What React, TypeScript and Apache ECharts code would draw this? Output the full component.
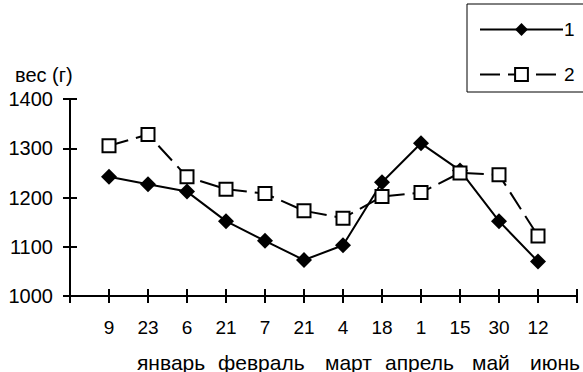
import React, { useEffect, useRef } from 'react';
import * as echarts from 'echarts';

const dayLabels = ['9', '23', '6', '21', '7', '21', '4', '18', '1', '15', '30', '12'];
const monthLabels = ['январь', 'февраль', 'март', 'апрель', 'май', 'июнь'];
const series1 = [1242, 1227, 1212, 1152, 1112, 1073, 1103, 1231, 1310, 1255, 1152, 1070];
const series2 = [1305, 1328, 1242, 1217, 1208, 1173, 1158, 1202, 1210, 1250, 1246, 1122];
const seriesNames = ['1', '2'];
const yAxisName = 'вес (г)';
const yMin = 1000;
const yMax = 1400;
const yStep = 100;

const FONT = '"Liberation Sans", Arial, sans-serif';

export default function App() {
  const ref = useRef<HTMLDivElement>(null);
  useEffect(() => {
    if (!ref.current) return;
    const chart = echarts.init(ref.current, undefined, { renderer: 'svg' });
    const cats = ['', ...dayLabels, ''];
    const pad = (arr: number[]) => ['-', ...arr, '-'];
    const monthX = [137, 218, 325, 385, 472, 530];
    chart.setOption({
      animation: false,
      textStyle: { fontFamily: FONT, color: '#000' },
      grid: { left: 70, top: 99, width: 507, height: 197, containLabel: false },
      legend: {
        data: seriesNames,
        orient: 'vertical',
        left: 467,
        top: 4,
        itemWidth: 83,
        itemHeight: 16,
        itemGap: 26,
        padding: [16, 24, 8, 12],
        borderColor: '#000',
        borderWidth: 1,
        selectedMode: false,
        textStyle: { fontSize: 19, color: '#000', fontFamily: FONT, padding: [0, 0, 0, -4] },
      },
      xAxis: [
        {
          type: 'category',
          data: cats,
          boundaryGap: false,
          axisLine: { show: true, lineStyle: { color: '#000', width: 2 } },
          axisTick: { show: true, inside: false, length: 7, interval: 0, lineStyle: { color: '#000', width: 2 } },
          axisLabel: { interval: 0, margin: 22, fontSize: 19, color: '#000', fontFamily: FONT },
          splitLine: { show: false },
        },
        {
          type: 'category',
          data: cats,
          boundaryGap: false,
          position: 'bottom',
          axisLine: { show: false },
          axisTick: { show: true, inside: true, length: 7, interval: 0, lineStyle: { color: '#000', width: 2 } },
          axisLabel: { show: false },
          splitLine: { show: false },
        },
      ],
      yAxis: [
        {
          type: 'value',
          min: yMin,
          max: yMax,
          interval: yStep,
          axisLine: { show: true, lineStyle: { color: '#000', width: 2 } },
          axisTick: { show: true, inside: false, length: 7, lineStyle: { color: '#000', width: 2 } },
          axisLabel: { margin: 17, fontSize: 20, color: '#000', fontFamily: FONT, formatter: (v: number) => String(v) },
          splitLine: { show: false },
        },
        {
          type: 'value',
          min: yMin,
          max: yMax,
          interval: yStep,
          position: 'left',
          axisLine: { show: false },
          axisTick: { show: true, inside: true, length: 7, lineStyle: { color: '#000', width: 2 } },
          axisLabel: { show: false },
          splitLine: { show: false },
        },
      ],
      series: [
        {
          name: seriesNames[0],
          type: 'line',
          data: pad(series1),
          color: '#000',
          symbol: 'diamond',
          symbolSize: 16,
          lineStyle: { color: '#000', width: 2 },
          itemStyle: { color: '#000' },
        },
        {
          name: seriesNames[1],
          type: 'line',
          data: pad(series2),
          color: '#000',
          symbol: 'rect',
          symbolSize: 13,
          lineStyle: { color: '#000', width: 2, type: [20, 8] },
          itemStyle: { color: '#fff', borderColor: '#000', borderWidth: 2 },
        },
      ],
      graphic: [
        {
          type: 'text',
          x: 15,
          y: 75,
          style: { text: yAxisName, fontSize: 20, fontFamily: FONT, fill: '#000', textAlign: 'left', textVerticalAlign: 'middle' },
        },
        ...monthLabels.map((m, i) => ({
          type: 'text',
          x: monthX[i],
          y: 362,
          style: { text: m, fontSize: 21, fontFamily: FONT, fill: '#000', textAlign: 'left', textVerticalAlign: 'middle' },
        })),
      ],
    });
    return () => chart.dispose();
  }, []);
  return <div ref={ref} style={{ position: 'absolute', left: 0, top: 0, width: 583, height: 372 }} />;
}
